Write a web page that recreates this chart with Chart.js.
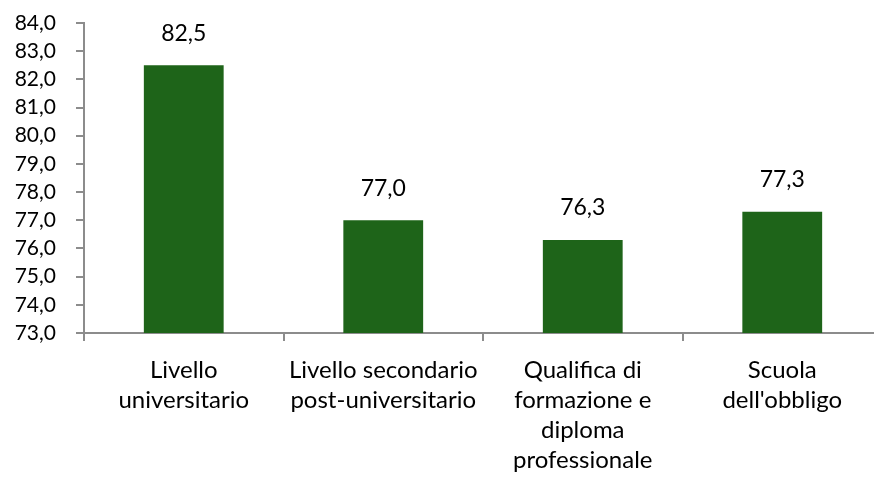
<!DOCTYPE html>
<html>
<head>
<meta charset="utf-8">
<script src="https://cdn.jsdelivr.net/npm/chart.js@4.4.1/dist/chart.umd.min.js"></script>
<style>
  html, body { margin: 0; padding: 0; background: #fff; overflow: hidden; }
  #wrap { width: 884px; height: 479px; }
</style>
</head>
<body>
<div id="wrap"><canvas id="chart" width="884" height="479"></canvas></div>
<script>
// categories (multi-line labels) and values
const categories = [
  ["Livello", "universitario"],
  ["Livello secondario", "post-universitario"],
  ["Qualifica di", "formazione e", "diploma", "professionale"],
  ["Scuola", "dell'obbligo"]
];
const values = [82.5, 77.0, 76.3, 77.3];
const yMin = 73;
const yMax = 84;

const fmt = (v) => v.toFixed(1).replace(".", ",");
const axisGrey = "#8c8c8c";
const fontFamily = "Lato, 'Open Sans', sans-serif";

// draw the value above each bar
const valueLabels = {
  id: "valueLabels",
  afterDatasetsDraw(chart) {
    const ctx = chart.ctx;
    const meta = chart.getDatasetMeta(0);
    ctx.save();
    ctx.fillStyle = "#000";
    ctx.font = "23px " + fontFamily;
    ctx.textAlign = "center";
    ctx.textBaseline = "middle";
    meta.data.forEach((bar, i) => {
      ctx.fillText(fmt(values[i]), bar.x, bar.y - 32);
    });
    ctx.restore();
  }
};

const ctx = document.getElementById("chart").getContext("2d");
new Chart(ctx, {
  type: "bar",
  data: {
    labels: categories,
    datasets: [
      {
        data: values,
        backgroundColor: "#1e6419",
        borderWidth: 0,
        barPercentage: 0.4,
        categoryPercentage: 1.0,
      },
    ],
  },
  options: {
    responsive: false,
    animation: false,
    layout: { padding: { top: 23, right: 2, left: 0, bottom: 0 } },
    plugins: {
      legend: { display: false },
      tooltip: { enabled: false },
    },
    scales: {
      x: {
        grid: {
          offset: true,
          drawOnChartArea: false,
          drawTicks: true,
          tickLength: 8,
          color: axisGrey,
          lineWidth: 2,
        },
        border: { display: true, color: axisGrey, width: 2 },
        ticks: {
          color: "#000",
          font: { family: fontFamily, size: 24, lineHeight: 1.25 },
          padding: 14,
          maxRotation: 0,
          autoSkip: false,
        },
        afterFit: (scale) => { scale.height = 146; },
      },
      y: {
        min: yMin,
        max: yMax,
        grid: {
          drawOnChartArea: false,
          drawTicks: true,
          tickLength: 8,
          color: axisGrey,
          lineWidth: 2,
        },
        border: { display: true, color: axisGrey, width: 2 },
        ticks: {
          stepSize: 1,
          autoSkip: false,
          color: "#000",
          font: { family: fontFamily, size: 21 },
          padding: 20,
          callback: (v) => fmt(v),
        },
        afterFit: (scale) => {
          scale.width = 84;
          scale.paddingTop = 10;
          scale.paddingBottom = 10;
        },
      },
    },
  },
  plugins: [valueLabels],
});
</script>
</body>
</html>
